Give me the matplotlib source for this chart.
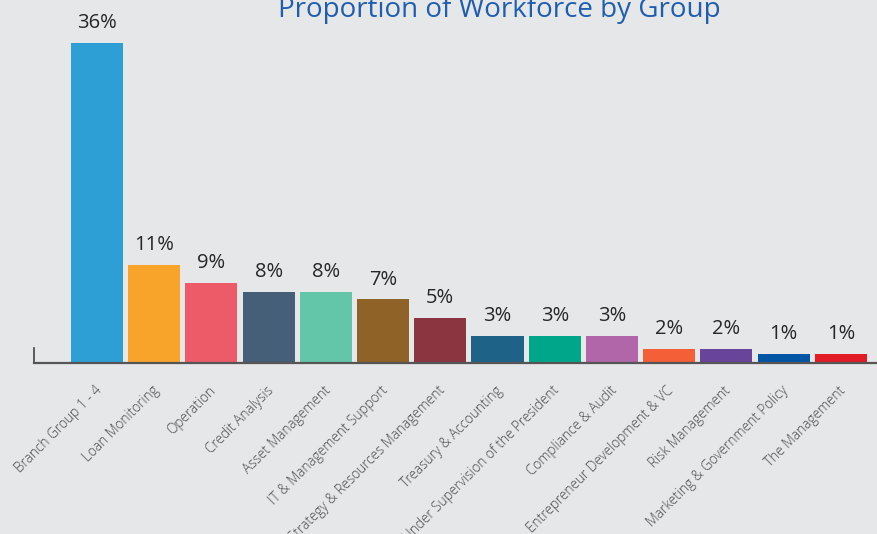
import matplotlib
matplotlib.use("Agg")
import matplotlib.pyplot as plt
import matplotlib.transforms as mtransforms

# workforce share per group (percent)
groups = ["Branch Group 1 - 4", "Loan Monitoring", "Operation", "Credit Analysis",
          "Asset Management", "IT & Management Support", "Strategy & Resources Management",
          "Treasury & Accounting", "Under Supervision of the President", "Compliance & Audit",
          "Entrepreneur Development & VC", "Risk Management",
          "Marketing & Government Policy", "The Management"]
shares = [36.0, 11.0, 9.0, 8.0, 8.0, 7.1, 5.0, 3.0, 3.0, 3.0, 1.55, 1.55, 1.0, 1.0]
bar_colors = ["#2e9fd4", "#f8a42a", "#ee5b68", "#445f77", "#64c6a9", "#8f6327", "#8b3541",
              "#1f6287", "#00a68a", "#b066a8", "#f45f38", "#68449a", "#0055a5", "#e21b24"]

bg = "#e6e7e9"
plt.rcParams["font.family"] = ["Open Sans", "DejaVu Sans"]

fig = plt.figure(figsize=(8.78, 5.34), dpi=100, facecolor=bg)
ax = fig.add_axes([34 / 878, 171.5 / 534, 844 / 878, 355 / 534])
ax.set_facecolor(bg)

x = list(range(len(groups)))
ax.bar(x, shares, width=0.91, color=bar_colors, zorder=2)

for xi, v in zip(x, shares):
    ax.annotate(f"{v:.0f}%", (xi, v), xytext=(0, 7), textcoords="offset points",
                ha="center", va="bottom", fontsize=14.5, color="#262626")

ax.set_xlim(-1.1, 13.65)
ax.set_ylim(0, 40)
ax.set_xticks(x)
ax.set_xticklabels(groups, rotation=45, ha="right", fontsize=9.8,
                   fontweight="light", color="#4a4a4a")
ax.tick_params(axis="x", length=0, pad=15)
shift = mtransforms.ScaledTranslation(8 / 100, 0, fig.dpi_scale_trans)
for lbl in ax.get_xticklabels():
    lbl.set_transform(lbl.get_transform() + shift)
ax.set_yticks([])

for side in ["top", "right"]:
    ax.spines[side].set_visible(False)
ax.spines["bottom"].set_color("#555555")
ax.spines["bottom"].set_linewidth(1.6)
ax.spines["left"].set_color("#444444")
ax.spines["left"].set_linewidth(1.2)
ax.spines["left"].set_bounds(0, 1.6)

fig.text(499 / 878, 1.0 - 17 / 534, "Proportion of Workforce by Group",
         ha="center", va="baseline", fontsize=20, color="#1f5eae")

fig.savefig("out.png", dpi=100, facecolor=bg)
